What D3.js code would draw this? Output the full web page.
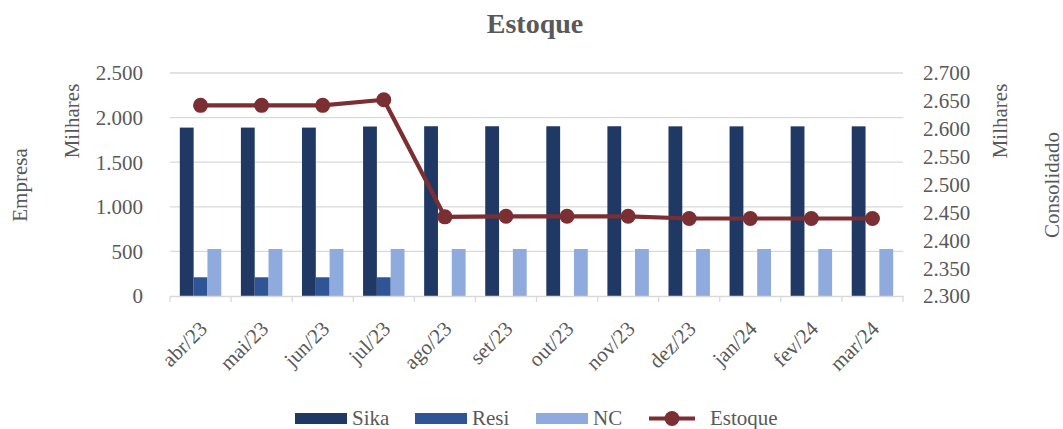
<!DOCTYPE html>
<html>
<head>
<meta charset="utf-8">
<script src="https://cdn.jsdelivr.net/npm/d3@7"></script>
<style>
  html, body { margin: 0; padding: 0; background: #fff; }
  svg { display: block; }
</style>
</head>
<body>
<svg id="chart" width="1063" height="429"></svg>
<script>
const categories = ["abr/23","mai/23","jun/23","jul/23","ago/23","set/23","out/23","nov/23","dez/23","jan/24","fev/24","mar/24"];
const sika = [1888, 1888, 1888, 1900, 1903, 1903, 1903, 1903, 1902, 1902, 1902, 1902];
const resi = [210, 210, 210, 210, 0, 0, 0, 0, 0, 0, 0, 0];
const nc = [527, 527, 527, 527, 527, 527, 527, 527, 527, 527, 527, 527];
const estoque = [2642, 2642, 2642, 2652, 2442, 2443, 2443, 2443, 2439, 2439, 2439, 2439];
const leftTicks = [0, 500, 1000, 1500, 2000, 2500];
const rightTicks = [2300, 2350, 2400, 2450, 2500, 2550, 2600, 2650, 2700];

const FONT = '"Liberation Serif", "Times New Roman", Tinos, "DejaVu Serif", serif';
const TXT = "#595959";

const barSeries = [
  { name: "Sika", values: sika, color: "#203864" },
  { name: "Resi", values: resi, color: "#2f5597" },
  { name: "NC", values: nc, color: "#8faadc" }
];
const lineColor = "#7b2f33";

const svg = d3.select("#chart");
const m = { left: 170, right: 903, top: 73, bottom: 296 };

const fmt = v => d3.format(",")(v).replace(/,/g, ".");

const x = d3.scaleBand().domain(categories).range([m.left, m.right]).paddingInner(0).paddingOuter(0);
const xs = d3.scaleBand().domain(barSeries.map(s => s.name)).range([0, x.bandwidth()]).paddingInner(0).paddingOuter(0.71);
const yL = d3.scaleLinear().domain([0, 2500]).range([m.bottom, m.top]);
const yR = d3.scaleLinear().domain([2300, 2700]).range([m.bottom, m.top]);

function txt(sel) {
  return sel.attr("font-family", FONT).attr("fill", TXT);
}

// gridlines
svg.append("g").selectAll("line").data(leftTicks.slice(1)).join("line")
  .attr("x1", m.left).attr("x2", m.right)
  .attr("y1", d => yL(d)).attr("y2", d => yL(d))
  .attr("stroke", "#d9d9d9").attr("stroke-width", 1.3);

// bars
const groups = svg.append("g").selectAll("g").data(categories).join("g")
  .attr("transform", d => `translate(${x(d)},0)`);
barSeries.forEach(s => {
  groups.append("rect")
    .attr("x", xs(s.name))
    .attr("width", xs.bandwidth())
    .attr("y", (d, i) => yL(s.values[i]))
    .attr("height", (d, i) => yL(0) - yL(s.values[i]))
    .attr("fill", s.color);
});

// bottom axis
const xAxis = svg.append("g").attr("transform", `translate(0,${m.bottom})`)
  .call(d3.axisBottom(x).tickSize(0).tickFormat(""));
xAxis.select(".domain").attr("stroke", "#d9d9d9").attr("stroke-width", 1.3);
svg.append("g").selectAll("line").data(d3.range(categories.length + 1)).join("line")
  .attr("x1", i => m.left + i * x.step()).attr("x2", i => m.left + i * x.step())
  .attr("y1", m.bottom).attr("y2", m.bottom + 6)
  .attr("stroke", "#d9d9d9").attr("stroke-width", 1.3);
txt(svg.append("g").selectAll("text").data(categories).join("text"))
  .attr("transform", d => `translate(${x(d) + x.bandwidth() / 2 + 8},${m.bottom + 34}) rotate(-45)`)
  .attr("text-anchor", "end").attr("font-size", 21)
  .text(d => d);

// left axis
const yLAxis = svg.append("g").attr("transform", `translate(${m.left - 24},0)`)
  .call(d3.axisLeft(yL).tickValues(leftTicks).tickSize(0).tickFormat(fmt));
yLAxis.attr("font-family", null).attr("font-size", null);
yLAxis.select(".domain").remove();
txt(yLAxis.selectAll("text")).attr("font-size", 21).attr("dy", "0.33em");

// right axis
const yRAxis = svg.append("g").attr("transform", `translate(${m.right + 17},0)`)
  .call(d3.axisRight(yR).tickValues(rightTicks).tickSize(0).tickFormat(fmt));
yRAxis.attr("font-family", null).attr("font-size", null);
yRAxis.select(".domain").remove();
txt(yRAxis.selectAll("text")).attr("font-size", 21).attr("dy", "0.33em");

// line
const cx = (d, i) => x(categories[i]) + x.bandwidth() / 2;
svg.append("path").datum(estoque)
  .attr("fill", "none").attr("stroke", lineColor).attr("stroke-width", 4.2)
  .attr("stroke-linejoin", "round")
  .attr("d", d3.line().x(cx).y(d => yR(d)));
svg.append("g").selectAll("circle").data(estoque).join("circle")
  .attr("cx", cx).attr("cy", d => yR(d)).attr("r", 7.5).attr("fill", lineColor);

// title
txt(svg.append("text")).attr("x", 535).attr("y", 33).attr("text-anchor", "middle")
  .attr("font-size", 28).attr("font-weight", "bold").text("Estoque");

// axis titles
txt(svg.append("text")).attr("transform", "translate(27,185) rotate(-90)").attr("text-anchor", "middle")
  .attr("font-size", 21).text("Empresa");
txt(svg.append("text")).attr("transform", "translate(79,121) rotate(-90)").attr("text-anchor", "middle")
  .attr("font-size", 21).text("Milhares");
txt(svg.append("text")).attr("transform", "translate(1007,121) rotate(-90)").attr("text-anchor", "middle")
  .attr("font-size", 21).text("Milhares");
txt(svg.append("text")).attr("transform", "translate(1059,185) rotate(-90)").attr("text-anchor", "middle")
  .attr("font-size", 21).text("Consolidado");

// legend
const legendItems = [
  { name: "Sika", color: "#203864", type: "rect", x: 295 },
  { name: "Resi", color: "#2f5597", type: "rect", x: 415 },
  { name: "NC", color: "#8faadc", type: "rect", x: 536 },
  { name: "Estoque", color: lineColor, type: "line", x: 649 }
];
const lg = svg.append("g");
const ly = 418.5;
legendItems.forEach(it => {
  if (it.type === "rect") {
    lg.append("rect").attr("x", it.x).attr("y", ly - 5.5).attr("width", 52).attr("height", 11).attr("fill", it.color);
    txt(lg.append("text")).attr("x", it.x + 57).attr("y", ly).attr("dy", "0.33em").attr("font-size", 21).text(it.name);
  } else {
    lg.append("line").attr("x1", it.x).attr("x2", it.x + 46).attr("y1", ly).attr("y2", ly)
      .attr("stroke", it.color).attr("stroke-width", 4.2);
    lg.append("circle").attr("cx", it.x + 23).attr("cy", ly).attr("r", 7.5).attr("fill", it.color);
    txt(lg.append("text")).attr("x", it.x + 61).attr("y", ly).attr("dy", "0.33em").attr("font-size", 21).text(it.name);
  }
});
</script>
</body>
</html>
